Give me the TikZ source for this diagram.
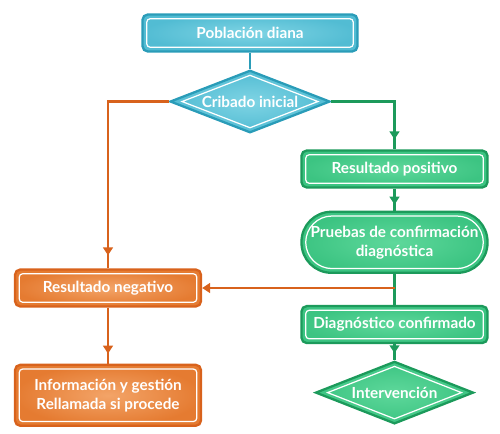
\documentclass[tikz,border=0pt]{standalone}
\usepackage{fontspec}
\setmainfont{Lato}
\usetikzlibrary{positioning,shapes.geometric,arrows.meta,decorations.markings}

\definecolor{cyanline}{HTML}{2A9CB8}
\definecolor{cyanin}{HTML}{7FD4E4}
\definecolor{cyanout}{HTML}{52BCD3}
\definecolor{greenline}{HTML}{1C9A5B}
\definecolor{greenin}{HTML}{5ED89B}
\definecolor{greenout}{HTML}{3CC482}
\definecolor{orangeline}{HTML}{D8621C}
\definecolor{orangein}{HTML}{F3A468}
\definecolor{orangeout}{HTML}{E57B31}

\begin{document}
\begin{tikzpicture}[node distance=0.44cm, auto,
  font=\fontsize{8.7}{10.7}\selectfont\bfseries, text=white,
  tip/.style={-{Triangle[length=4.5pt,width=5.5pt]}},
  midtip/.style={postaction={decorate}, decoration={markings,
    mark=at position #1 with {\arrow{Triangle[length=4.5pt,width=5.5pt]}}}},
  whiterect/.style={path picture={\draw[white,line width=0.7pt,rounded corners=#1]
    ([shift={(2.4pt,2.4pt)}]path picture bounding box.south west) rectangle
    ([shift={(-2.4pt,-2.4pt)}]path picture bounding box.north east);}},
  whiterect/.default=2pt,
  box/.style={rectangle, rounded corners=3pt, minimum width=3.72cm,
    minimum height=0.74cm, line width=1.3pt, align=center, inner sep=2pt},
  dia/.style={diamond, aspect=2.5, minimum width=3.2cm, minimum height=1.25cm,
    inner sep=0pt, line width=1.3pt, align=center,
    path picture={\draw[white,line width=0.7pt]
      ([yshift=-2.6pt]path picture bounding box.north) --
      ([xshift=-6.6pt]path picture bounding box.east) --
      ([yshift=2.6pt]path picture bounding box.south) --
      ([xshift=6.6pt]path picture bounding box.west) -- cycle;}},
  cyanbox/.style={draw=cyanline, inner color=cyanin, outer color=cyanout},
  greenbox/.style={draw=greenline, inner color=greenin, outer color=greenout},
  orangebox/.style={draw=orangeline, inner color=orangein, outer color=orangeout},
  cyanarrow/.style={draw=cyanline, line width=1.25pt},
  greenarrow/.style={draw=greenline, line width=1.25pt},
  orangearrow/.style={draw=orangeline, line width=1.25pt}]
\useasboundingbox (0,0) rectangle (10,8.66);

% columna central y derecha
\node (pob) [box, cyanbox, whiterect, minimum width=4.3cm] at (5.0,8.0) {Población diana};
\node (crib) [dia, cyanbox, below=0.33cm of pob] {Cribado inicial};
\node (pos) [box, greenbox, whiterect] at (7.89,5.28) {Resultado positivo};
\node (pru) [box, greenbox, whiterect=15pt, rounded corners=17pt, minimum height=1.22cm,
  below=of pos] {Pruebas de confirmación\\diagnóstica};
\node (diag) [box, greenbox, whiterect, below=0.62cm of pru] {Diagnóstico confirmado};
\node (int) [dia, greenbox, minimum width=3.16cm, below=0.32cm of diag] {Intervención};

% columna izquierda
\node (neg) [box, orangebox, whiterect] at (2.16,2.90) {Resultado negativo};
\node (info) [box, orangebox, whiterect, minimum height=1.22cm, below=1.12cm of neg]
  {Información y gestión\\Rellamada si procede};
\coordinate (split) at (pru.south |- neg.east);

\draw[cyanarrow] (pob) -- (crib);
\draw[orangearrow, midtip=-0.26cm] (crib.west) -| (neg.north);
\draw[greenarrow, midtip=-0.2cm] (crib.east) -| (pos.north);
\draw[greenarrow, midtip=-0.12cm] (pos) -- (pru);
\draw[greenarrow] (pru) -- (diag);
\draw[orangearrow, tip] (split) -- (neg.east);
\draw[greenarrow, midtip=-0.14cm] (diag) -- (int);
\draw[orangearrow, midtip=-0.2cm] (neg) -- (info);
\end{tikzpicture}
\end{document}
